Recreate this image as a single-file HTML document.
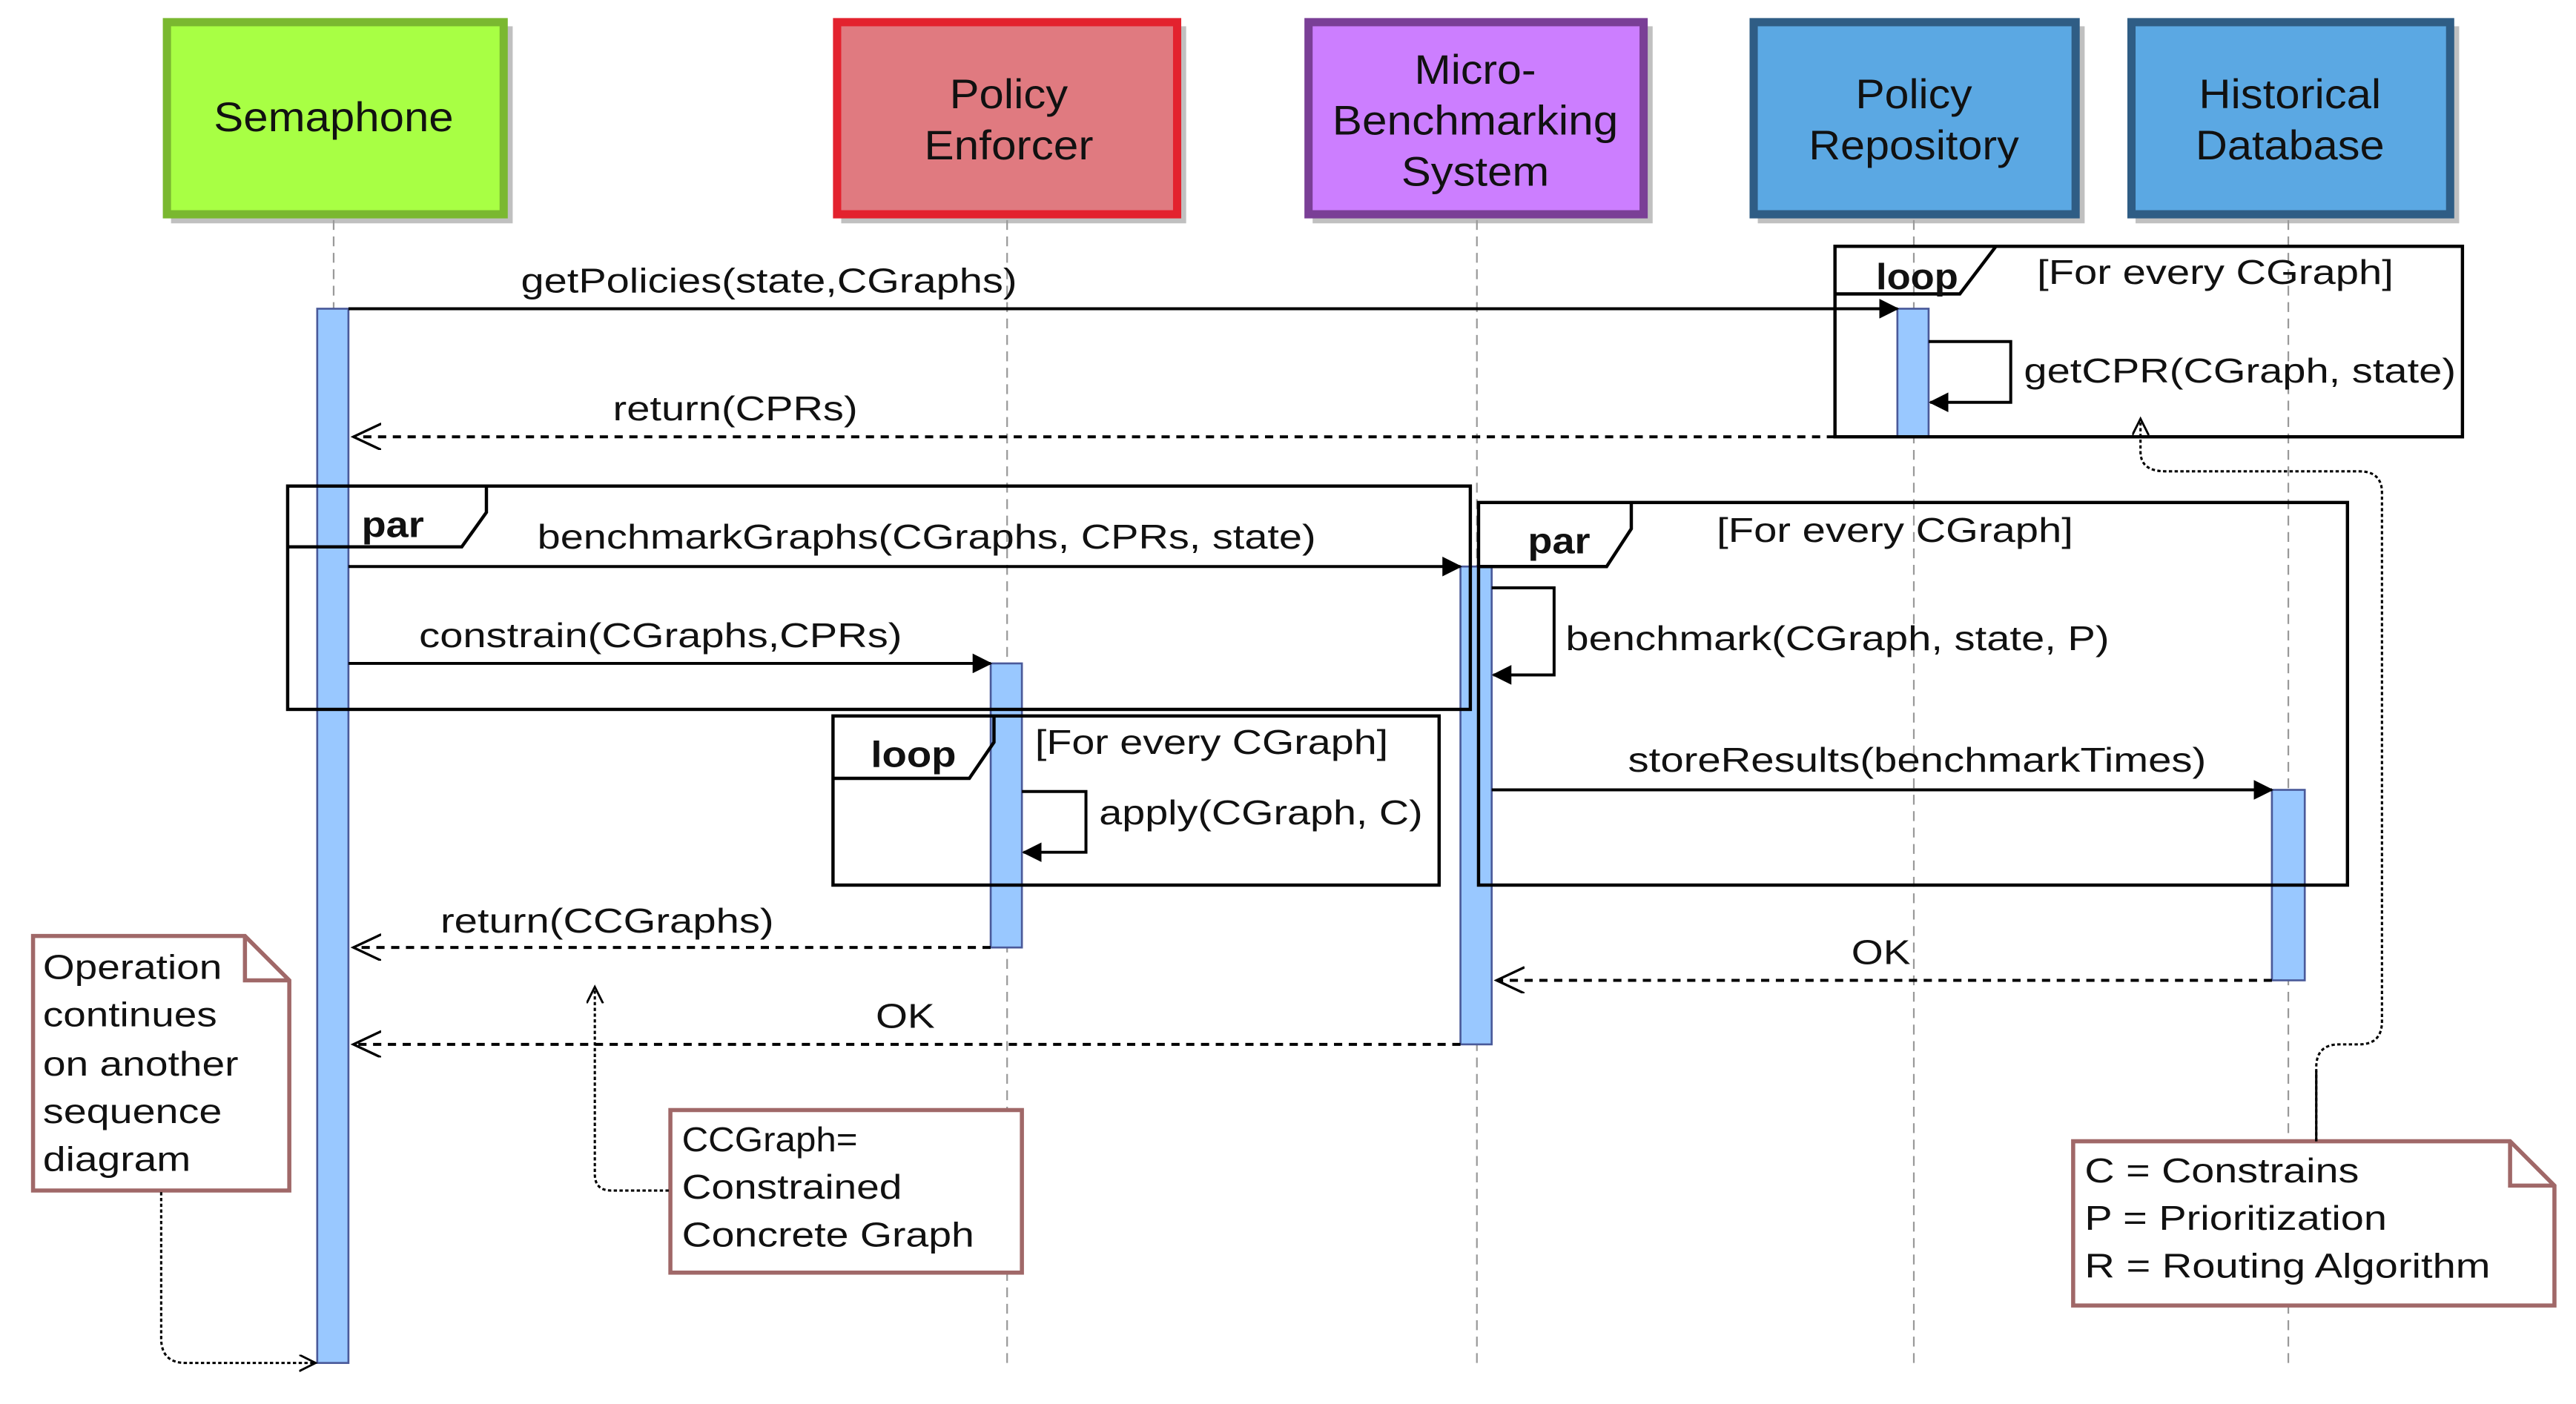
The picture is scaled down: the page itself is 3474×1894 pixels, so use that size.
<!DOCTYPE html>
<html><head><meta charset="utf-8"><style>
html,body{margin:0;padding:0;background:#fff;}
svg{display:block;}
text{font-family:"Liberation Sans",Arial,sans-serif;fill:#111;}
</style></head><body>
<svg width="3474" height="1894" viewBox="0 0 1568 855" xmlns="http://www.w3.org/2000/svg">
<defs>
<marker id="fa" markerWidth="12" markerHeight="12" refX="11" refY="6" orient="auto" markerUnits="userSpaceOnUse"><path d="M0,0 L12,6 L0,12 Z" fill="#000"/></marker>
<marker id="oa" markerWidth="20" markerHeight="20" refX="17" refY="8" orient="auto" markerUnits="userSpaceOnUse"><path d="M0,0 L17,8 L0,16" fill="none" stroke="#000" stroke-width="1.5"/></marker>
<marker id="ha" markerWidth="12" markerHeight="12" refX="10" refY="5" orient="auto" markerUnits="userSpaceOnUse"><path d="M0,0 L10,5 L0,10" fill="none" stroke="#000" stroke-width="1.3"/></marker>
</defs>
<g>
<rect x="104" y="16" width="208" height="120" fill="#c0c0c0"/>
<rect x="101.5" y="13.5" width="205" height="117" fill="#a8ff44" stroke="#7ab830" stroke-width="5"/>
<text x="203" y="80" font-size="25" text-anchor="middle" textLength="146" lengthAdjust="spacingAndGlyphs">Semaphone</text>

<rect x="512" y="16" width="210" height="120" fill="#c0c0c0"/>
<rect x="509.5" y="13.5" width="207" height="117" fill="#e07a80" stroke="#e3222e" stroke-width="5"/>
<text x="614" y="66" font-size="25" text-anchor="middle" textLength="72" lengthAdjust="spacingAndGlyphs">Policy</text>
<text x="614" y="97" font-size="25" text-anchor="middle" textLength="103" lengthAdjust="spacingAndGlyphs">Enforcer</text>

<rect x="799" y="16" width="207" height="120" fill="#c0c0c0"/>
<rect x="796.5" y="13.5" width="204" height="117" fill="#cc7eff" stroke="#7a3f96" stroke-width="5"/>
<text x="898" y="51" font-size="25" text-anchor="middle" textLength="74" lengthAdjust="spacingAndGlyphs">Micro-</text>
<text x="898" y="82" font-size="25" text-anchor="middle" textLength="174" lengthAdjust="spacingAndGlyphs">Benchmarking</text>
<text x="898" y="113" font-size="25" text-anchor="middle" textLength="90" lengthAdjust="spacingAndGlyphs">System</text>

<rect x="1070" y="16" width="199" height="120" fill="#c0c0c0"/>
<rect x="1067.5" y="13.5" width="196" height="117" fill="#5ba8e3" stroke="#2f5d85" stroke-width="5"/>
<text x="1165" y="66" font-size="25" text-anchor="middle" textLength="71" lengthAdjust="spacingAndGlyphs">Policy</text>
<text x="1165" y="97" font-size="25" text-anchor="middle" textLength="128" lengthAdjust="spacingAndGlyphs">Repository</text>

<rect x="1300" y="16" width="197" height="120" fill="#c0c0c0"/>
<rect x="1297.5" y="13.5" width="194" height="117" fill="#5ba8e3" stroke="#2f5d85" stroke-width="5"/>
<text x="1394" y="66" font-size="25" text-anchor="middle" textLength="111" lengthAdjust="spacingAndGlyphs">Historical</text>
<text x="1394" y="97" font-size="25" text-anchor="middle" textLength="115" lengthAdjust="spacingAndGlyphs">Database</text>
</g>
<g stroke="#999" stroke-width="1" stroke-dasharray="6,4">
<line x1="203" y1="134" x2="203" y2="830"/>
<line x1="613" y1="134" x2="613" y2="830"/>
<line x1="899" y1="134" x2="899" y2="830"/>
<line x1="1165" y1="134" x2="1165" y2="830"/>
<line x1="1393" y1="134" x2="1393" y2="830"/>
</g>
<g fill="#99c8ff" stroke="#4a5a9a" stroke-width="1.2">
<rect x="193" y="188" width="19" height="642"/>
<rect x="1155" y="188" width="19" height="78"/>
<rect x="603" y="404" width="19" height="173"/>
<rect x="889" y="345" width="19" height="291"/>
<rect x="1383" y="481" width="20" height="116"/>
</g>
<g fill="none" stroke="#000" stroke-width="2">
<rect x="1117" y="150" width="382" height="116"/>
<path d="M1117,179 H1193 L1215,150"/>
<rect x="175" y="296" width="720" height="136"/>
<path d="M175,333 H281 L296,312 V296"/>
<rect x="507" y="436" width="369" height="103"/>
<path d="M507,474 H590 L605,452 V436"/>
<rect x="900" y="306" width="529" height="233"/>
<path d="M900,345 H978 L993,322 V306"/>
</g>
<g font-size="22" font-weight="bold">
<text x="1142" y="176" textLength="50" lengthAdjust="spacingAndGlyphs">loop</text>
<text x="220" y="327" textLength="38" lengthAdjust="spacingAndGlyphs">par</text>
<text x="530" y="467" textLength="52" lengthAdjust="spacingAndGlyphs">loop</text>
<text x="930" y="337" textLength="38" lengthAdjust="spacingAndGlyphs">par</text>
</g>
<g stroke="#000" stroke-width="1.8" fill="none">
<line x1="212" y1="188" x2="1155" y2="188" marker-end="url(#fa)"/>
<path d="M1174,208 H1224 V245 H1175" marker-end="url(#fa)"/>
<line x1="1117" y1="266" x2="215" y2="266" stroke-dasharray="5,4" marker-end="url(#oa)"/>
<line x1="212" y1="345" x2="889" y2="345" marker-end="url(#fa)"/>
<line x1="212" y1="404" x2="603" y2="404" marker-end="url(#fa)"/>
<path d="M622,482 H661 V519 H623" marker-end="url(#fa)"/>
<line x1="603" y1="577" x2="215" y2="577" stroke-dasharray="5,4" marker-end="url(#oa)"/>
<line x1="889" y1="636" x2="215" y2="636" stroke-dasharray="5,4" marker-end="url(#oa)"/>
<path d="M908,358 H946 V411 H909" marker-end="url(#fa)"/>
<line x1="908" y1="481" x2="1383" y2="481" marker-end="url(#fa)"/>
<line x1="1383" y1="597" x2="911" y2="597" stroke-dasharray="5,4" marker-end="url(#oa)"/>
</g>
<g font-size="21">
<text x="317" y="178" textLength="302" lengthAdjust="spacingAndGlyphs">getPolicies(state,CGraphs)</text>
<text x="1240" y="173" textLength="217" lengthAdjust="spacingAndGlyphs">[For every CGraph]</text>
<text x="1232" y="233" textLength="263" lengthAdjust="spacingAndGlyphs">getCPR(CGraph, state)</text>
<text x="373" y="256" textLength="149" lengthAdjust="spacingAndGlyphs">return(CPRs)</text>
<text x="327" y="334" textLength="474" lengthAdjust="spacingAndGlyphs">benchmarkGraphs(CGraphs, CPRs, state)</text>
<text x="255" y="394" textLength="294" lengthAdjust="spacingAndGlyphs">constrain(CGraphs,CPRs)</text>
<text x="630" y="459" textLength="215" lengthAdjust="spacingAndGlyphs">[For every CGraph]</text>
<text x="669" y="502" textLength="197" lengthAdjust="spacingAndGlyphs">apply(CGraph, C)</text>
<text x="268" y="568" textLength="203" lengthAdjust="spacingAndGlyphs">return(CCGraphs)</text>
<text x="533" y="626" textLength="36" lengthAdjust="spacingAndGlyphs">OK</text>
<text x="1045" y="330" textLength="217" lengthAdjust="spacingAndGlyphs">[For every CGraph]</text>
<text x="953" y="396" textLength="331" lengthAdjust="spacingAndGlyphs">benchmark(CGraph, state, P)</text>
<text x="991" y="470" textLength="352" lengthAdjust="spacingAndGlyphs">storeResults(benchmarkTimes)</text>
<text x="1127" y="587" textLength="36" lengthAdjust="spacingAndGlyphs">OK</text>
</g>
<g fill="#fff" stroke="#a06868" stroke-width="2.5">
<path d="M20,570 H149 L176,597 V725 H20 Z"/>
<path d="M149,570 V597 H176" fill="none"/>
<rect x="408" y="676" width="214" height="99"/>
<path d="M1262,695 H1528 L1555,722 V795 H1262 Z"/>
<path d="M1528,695 V722 H1555" fill="none"/>
</g>
<g font-size="21">
<text x="26" y="596" textLength="109" lengthAdjust="spacingAndGlyphs">Operation</text>
<text x="26" y="625" textLength="106" lengthAdjust="spacingAndGlyphs">continues</text>
<text x="26" y="655" textLength="119" lengthAdjust="spacingAndGlyphs">on another</text>
<text x="26" y="684" textLength="109" lengthAdjust="spacingAndGlyphs">sequence</text>
<text x="26" y="713" textLength="90" lengthAdjust="spacingAndGlyphs">diagram</text>
<text x="415" y="701" textLength="107" lengthAdjust="spacingAndGlyphs">CCGraph=</text>
<text x="415" y="730" textLength="134" lengthAdjust="spacingAndGlyphs">Constrained</text>
<text x="415" y="759" textLength="178" lengthAdjust="spacingAndGlyphs">Concrete Graph</text>
<text x="1269" y="720" textLength="167" lengthAdjust="spacingAndGlyphs">C = Constrains</text>
<text x="1269" y="749" textLength="184" lengthAdjust="spacingAndGlyphs">P = Prioritization</text>
<text x="1269" y="778" textLength="247" lengthAdjust="spacingAndGlyphs">R = Routing Algorithm</text>
</g>
<g fill="none" stroke="#000" stroke-width="1.4" stroke-dasharray="2,1.5">
<path d="M98,726 V815 Q98,830 113,830 H192" marker-end="url(#ha)"/>
<path d="M407,725 H372 Q362,725 362,715 V601" marker-end="url(#ha)"/>
<path d="M1410,695 V650 Q1410,636 1424,636 H1436 Q1450,636 1450,622 V300 Q1450,287 1436,287 H1318 Q1303,287 1303,275 V255" marker-end="url(#ha)"/>
</g>
<line x1="1410" y1="695" x2="1410" y2="652" stroke="#000" stroke-width="1.4"/>
</svg>
</body></html>
